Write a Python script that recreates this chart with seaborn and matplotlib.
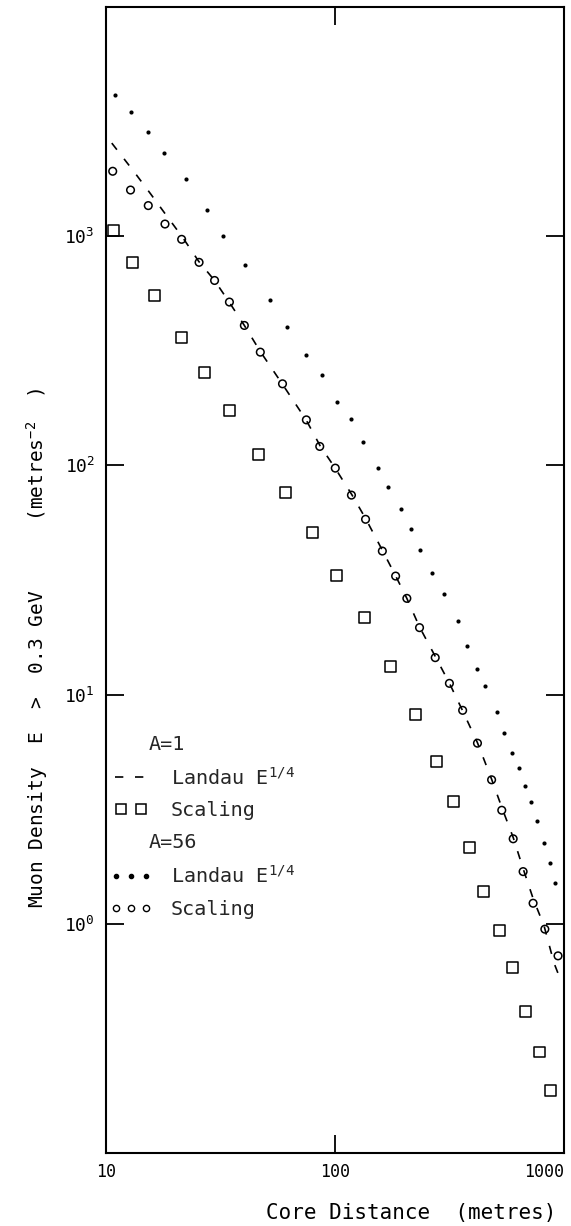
"""
Muon lateral distribution: density vs core distance (log-log).
"""

import numpy as np
import pandas as pd
import matplotlib
matplotlib.use("Agg")
import matplotlib.pyplot as plt
import seaborn as sns
from matplotlib.lines import Line2D
from matplotlib.legend_handler import HandlerLine2D
from matplotlib.ticker import NullLocator

# A=56, Landau E^1/4 (dots)
dist_landau56 = [10.9, 12.8, 15.3, 17.9, 22.3, 27.7, 32.5, 40.3, 52.0, 61.7,
                 75.0, 87.5, 102, 118, 132, 154, 171, 194, 214, 236,
                 265, 298, 343, 379, 419, 453, 510, 547, 590, 636,
                 679, 717, 761, 819, 867, 911]
dens_landau56 = [4130, 3490, 2860, 2300, 1770, 1300, 1000, 746, 528, 402,
                 304, 247, 190, 160, 127, 97.9, 80.6, 64.6, 52.8, 42.9,
                 34.0, 27.4, 20.9, 16.3, 12.9, 10.95, 8.37, 6.79, 5.58, 4.80,
                 4.00, 3.39, 2.82, 2.25, 1.84, 1.50]

# A=56, Scaling (open circles)
dist_scaling56 = [10.7, 12.8, 15.3, 18.1, 21.4, 25.5, 29.8, 34.6, 40.2, 47.2,
                  59.0, 75.0, 85.8, 100.3, 118, 136, 161, 184, 206, 234,
                  274, 316, 361, 419, 483, 535, 600, 663, 733, 825, 942]
dens_scaling56 = [1920, 1590, 1360, 1130, 969, 769, 641, 516, 408, 312,
                  227, 158, 121, 97.3, 74.2, 58.2, 42.3, 32.9, 26.3, 19.6,
                  14.5, 11.2, 8.54, 6.14, 4.25, 3.13, 2.35, 1.69, 1.23, 0.948, 0.725]

# A=1, Scaling (open squares)
dist_scaling1 = [10.8, 13.1, 16.3, 21.4, 27.0, 34.6, 46.4, 60.6, 79.4, 102,
                 135, 175, 224, 278, 329, 386, 447, 525, 598, 682, 779, 875]
dens_scaling1 = [1060, 771, 553, 363, 255, 173, 112, 76.3, 51.0, 33.2,
                 21.7, 13.3, 8.20, 5.11, 3.42, 2.16, 1.39, 0.935, 0.642, 0.414, 0.276, 0.188]

# A=1, Landau E^1/4 (dashed curve)
dist_landau1 = [10.6, 13.3, 15.7, 18.4, 21.6, 25.4, 29.8, 34.6, 40.2, 47.2,
                58.8, 74.8, 86.1, 100, 118.6, 136.4, 161.7, 184.2, 205.6, 234.2,
                274.9, 316.2, 360.2, 418.6, 481.6, 537.7, 600.2, 663.3, 733.1, 818.4,
                904.6, 970.5]
dens_landau1 = [2548, 1903, 1525, 1228, 989, 777, 641, 514, 408, 314,
                227, 158, 121.8, 97.6, 74.4, 58.4, 42.3, 32.9, 26.4, 19.7,
                14.6, 11.2, 8.54, 6.18, 4.31, 3.18, 2.38, 1.74, 1.29, 0.98,
                0.675, 0.563]

x_ticks = [10, 100, 1000]
x_ticklabels = ["10", "100", "1000"]
y_ticks = [1, 10, 100, 1000]
y_ticklabels = ["$10^{0}$", "$10^{1}$", "$10^{2}$", "$10^{3}$"]

sns.set_style("ticks")
plt.rcParams["font.family"] = ["DejaVu Sans Mono", "DejaVu Sans"]
plt.rcParams["mathtext.fontset"] = "custom"
plt.rcParams["mathtext.rm"] = "DejaVu Sans Mono"
plt.rcParams["mathtext.it"] = "DejaVu Sans Mono"
plt.rcParams["mathtext.bf"] = "DejaVu Sans Mono:bold"

fig = plt.figure(figsize=(5.71, 12.26), dpi=100)
ax = fig.add_axes([0.1856, 0.0595, 0.8021, 0.9348])

df_line = pd.DataFrame({"dist": dist_landau1, "dens": dens_landau1})
sns.lineplot(data=df_line, x="dist", y="dens", sort=False, estimator=None,
             color="black", lw=1.2, linestyle=(0, (5, 7)), ax=ax)
sns.scatterplot(x=dist_scaling1, y=dens_scaling1, marker="s", s=62,
                facecolor="none", edgecolor="black", linewidth=1.1, ax=ax)
sns.scatterplot(x=dist_scaling56, y=dens_scaling56, marker="o", s=30,
                facecolor="none", edgecolor="black", linewidth=1.1, ax=ax)
sns.scatterplot(x=dist_landau56, y=dens_landau56, marker="o", s=9,
                color="black", edgecolor="black", linewidth=0, ax=ax)

ax.set(xscale="log", yscale="log")
ax.set_xlim(10, 1000)
ax.set_ylim(0.1, 1e4)
ax.set_xticks(x_ticks)
ax.set_xticklabels(x_ticklabels)
ax.set_yticks(y_ticks)
ax.set_yticklabels(y_ticklabels)
ax.xaxis.set_minor_locator(NullLocator())
ax.yaxis.set_minor_locator(NullLocator())
ax.tick_params(which="major", direction="in", top=True, right=True,
               length=13, width=1.3, color="black", labelcolor="black")
ax.tick_params(axis="x", labelsize=12, pad=7)
ax.tick_params(axis="y", labelsize=13, pad=8)
ax.get_xticklabels()[-1].set_ha("right")
for sp in ax.spines.values():
    sp.set_linewidth(1.5)
    sp.set_color("black")

ax.set_xlabel("Core Distance  (metres)", fontsize=15, color="black")
ax.xaxis.set_label_coords(0.666, -0.0436)
ax.set_ylabel("Muon Density  E  >  0.3 GeV      (metres$^{-2}$  )",
              fontsize=14, color="black")
ax.yaxis.set_label_coords(-0.122, 0.4407)

# legend
blank1 = Line2D([], [], linestyle="none")
blank2 = Line2D([], [], linestyle="none")
h_dash = Line2D([], [], color="black", lw=1.2, linestyle=(0, (5, 7)))
h_sq = Line2D([], [], marker="s", linestyle="none", mfc="none", mec="black", ms=6.5, mew=1.1)
h_dot = Line2D([], [], marker="o", linestyle="none", color="black", ms=3)
h_circ = Line2D([], [], marker="o", linestyle="none", mfc="none", mec="black", ms=4.5, mew=1)
leg = ax.legend(
    handles=[blank1, h_dash, h_sq, blank2, h_dot, h_circ],
    labels=["A=1", "Landau E$^{1/4}$", "Scaling", "A=56", "Landau E$^{1/4}$", "Scaling"],
    handler_map={h_sq: HandlerLine2D(numpoints=2),
                 h_dot: HandlerLine2D(numpoints=3, marker_pad=0.05),
                 h_circ: HandlerLine2D(numpoints=3, marker_pad=0.05)},
    loc="upper left", bbox_to_anchor=(0.02, 0.365), frameon=False,
    borderpad=0, borderaxespad=0, handlelength=1.6, handletextpad=1.15,
    labelspacing=0.64, prop={"size": 14.5},
)
for i in (0, 3):
    leg.get_texts()[i].set_x(-22)

fig.savefig("out.png", dpi=100)
